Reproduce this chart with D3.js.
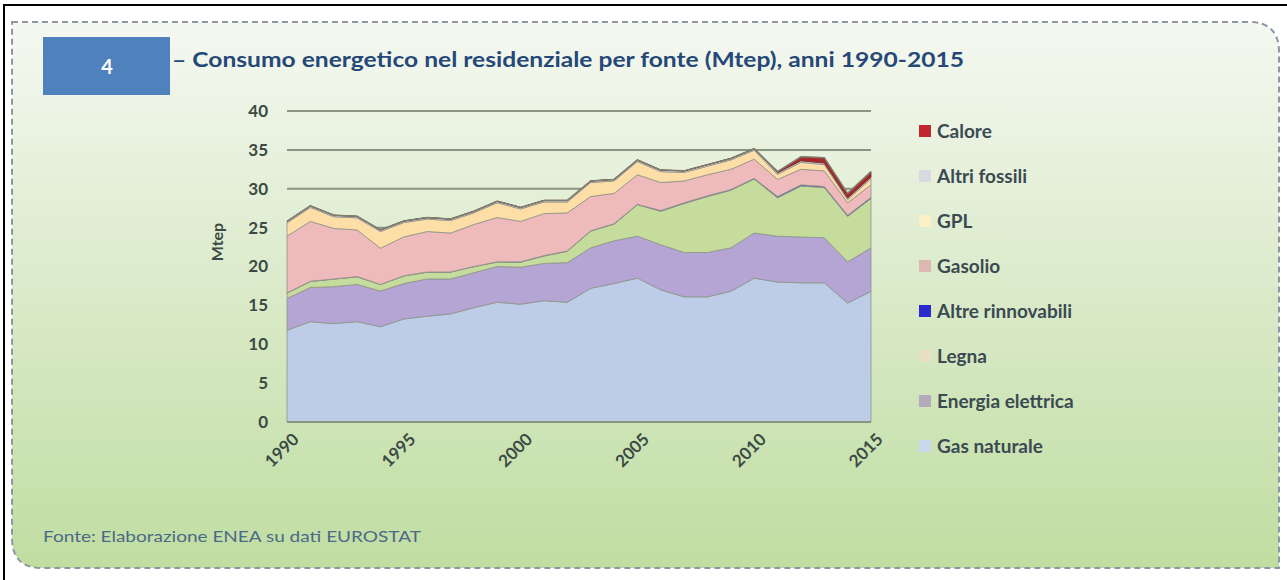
<!DOCTYPE html>
<html><head><meta charset="utf-8">
<script src="https://cdn.jsdelivr.net/npm/d3@7"></script>
<style>html,body{margin:0;padding:0;background:#fff;}svg{display:block;}</style>
</head><body>
<svg id="c" width="1287" height="580"></svg>
<script>
const years = [1990,1991,1992,1993,1994,1995,1996,1997,1998,1999,2000,2001,2002,2003,2004,2005,2006,2007,2008,2009,2010,2011,2012,2013,2014,2015];
const gasNaturale     = [11.8,12.9,12.65,12.9,12.25,13.25,13.6,13.9,14.7,15.4,15.15,15.6,15.4,17.2,17.8,18.5,17.0,16.1,16.1,16.8,18.5,18.0,17.9,17.9,15.3,16.8];
const energiaElettrica= [4.1,4.4,4.75,4.8,4.6,4.55,4.8,4.5,4.5,4.6,4.75,4.8,5.1,5.2,5.5,5.4,5.8,5.7,5.7,5.6,5.8,5.9,5.9,5.8,5.3,5.6];
const legna           = [0.67,0.77,0.97,0.97,0.82,0.97,0.87,0.87,0.77,0.57,0.65,0.95,1.45,2.15,2.15,4.05,4.3,6.3,7.2,7.4,6.95,4.95,6.55,6.45,5.85,6.35];
const altreRinnovabili= [0.03,0.03,0.03,0.03,0.03,0.03,0.03,0.03,0.03,0.03,0.05,0.05,0.05,0.05,0.05,0.05,0.1,0.1,0.1,0.1,0.1,0.15,0.15,0.15,0.15,0.15];
const gasolio         = [7.3,7.7,6.5,6.0,4.65,5.0,5.2,5.0,5.4,5.7,5.2,5.4,4.9,4.4,3.9,3.8,3.6,2.8,2.7,2.6,2.45,2.2,2.0,2.0,1.6,1.6];
const gpl             = [1.7,1.8,1.5,1.55,2.15,1.85,1.6,1.6,1.5,1.9,1.6,1.5,1.4,1.8,1.6,1.7,1.4,1.1,1.1,1.2,1.15,0.65,0.9,0.8,0.4,0.8];
const altriFossili    = [0.2,0.2,0.2,0.2,0.2,0.2,0.2,0.2,0.2,0.2,0.2,0.2,0.2,0.2,0.2,0.2,0.2,0.2,0.2,0.2,0.2,0.2,0.2,0.2,0.2,0.2];
const calore          = [0,0,0,0,0,0,0,0,0,0,0,0,0,0,0,0,0,0,0,0,0,0.15,0.5,0.7,0.6,0.7];
const seriesNames = ["Gas naturale","Energia elettrica","Legna","Altre rinnovabili","Gasolio","GPL","Altri fossili","Calore"];
const yTicks = [0,5,10,15,20,25,30,35,40];
const xTicks = [1990,1995,2000,2005,2010,2015];
const titleText = "– Consumo energetico nel residenziale per fonte (Mtep), anni 1990-2015";
const footText = "Fonte: Elaborazione ENEA su dati EUROSTAT";

const seriesVals = [gasNaturale,energiaElettrica,legna,altreRinnovabili,gasolio,gpl,altriFossili,calore];
const areaColors = ["#bdcde7","#b4a5d4","#c6dc9c","#3030c8","#efbabc","#fddea6","#d8d3e4","#a8282a"];
const legendColors = ["#c9d8ea","#b3aabb","#e8dfc4","#2a2ad0","#dbb9b2","#fbefc4","#d9d9e2","#c0282d"];

const svg = d3.select("#c");
const defs = svg.append("defs");
const grad = defs.append("linearGradient").attr("id","bg").attr("x1",0).attr("y1",0).attr("x2",0).attr("y2",1);
grad.append("stop").attr("offset","0%").attr("stop-color","#f5f8f1");
grad.append("stop").attr("offset","35%").attr("stop-color","#e2eed5");
grad.append("stop").attr("offset","100%").attr("stop-color","#c0dda1");

svg.append("rect").attr("x",0).attr("y",0).attr("width",1287).attr("height",580).attr("fill","#fff");
svg.append("line").attr("x1",3).attr("x2",1287).attr("y1",5).attr("y2",5).attr("stroke","#000").attr("stroke-width",2);
svg.append("line").attr("x1",4).attr("x2",4).attr("y1",5).attr("y2",580).attr("stroke","#000").attr("stroke-width",2);

const L=12,T=22,R=1279,B=568,rad=30;
const panelPath = `M${L},${T} L${R-rad},${T} Q${R},${T} ${R},${T+rad} L${R},${B} L${L+rad},${B} Q${L},${B} ${L},${B-rad} Z`;
svg.append("path").attr("d",panelPath).attr("fill","url(#bg)");
svg.append("path").attr("d",panelPath).attr("fill","none").attr("stroke","#8e96a4").attr("stroke-width",2).attr("stroke-dasharray","6,4");

const font = "Lato, 'Open Sans', sans-serif";
svg.append("rect").attr("x",43).attr("y",37).attr("width",127).attr("height",58).attr("fill","#4f81bd");
svg.append("text").attr("x",107).attr("y",74).attr("text-anchor","middle").attr("fill","#fff")
  .style("font-family",font).style("font-size","20px").style("font-weight","bold").text("4");
svg.append("text").attr("x",172).attr("y",67).attr("fill","#254878")
  .attr("textLength",792).attr("lengthAdjust","spacingAndGlyphs")
  .style("font-family",font).style("font-size","20px").style("font-weight","bold").text(titleText);

const x = d3.scaleLinear().domain([1990,2015]).range([287,871]);
const y = d3.scaleLinear().domain([0,40]).range([422,111]);

const g = svg.append("g");
g.selectAll("line.grid").data(yTicks.filter(d=>d>0)).join("line")
  .attr("x1",x(1990)).attr("x2",x(2015)).attr("y1",d=>y(d)).attr("y2",d=>y(d))
  .attr("stroke","#8a9482").attr("stroke-width",2);

const table = years.map((yr,i)=>{const o={year:yr}; seriesNames.forEach((n,k)=>o[n]=seriesVals[k][i]); return o;});
const stack = d3.stack().keys(seriesNames)(table);
const area = d3.area().x(d=>x(d.data.year)).y0(d=>y(d[0])).y1(d=>y(d[1]));
g.selectAll("path.layer").data(stack).join("path")
  .attr("d",area).attr("fill",(d,i)=>areaColors[i])
  .attr("stroke",(d,i)=> i===7 ? "#7a2020" : "#8f9488").attr("stroke-width",1).attr("stroke-opacity",0.8);
const topLine = d3.line().x(d=>x(d.data.year)).y(d=>y(d[1]));
g.append("path").attr("d",topLine(stack[7])).attr("fill","none").attr("stroke","#7d7f6e").attr("stroke-width",1.5);

g.append("line").attr("x1",x(1990)).attr("x2",x(2015)).attr("y1",y(0)).attr("y2",y(0)).attr("stroke","#8a9482").attr("stroke-width",2);

const yAxis = d3.axisLeft(y).tickValues(yTicks).tickSize(0).tickPadding(0);
const ya = svg.append("g").attr("transform","translate(268,0)").call(yAxis);
ya.select(".domain").remove();
ya.selectAll("text").attr("fill","#3b4a44").style("font-family",font).style("font-size","17px").style("font-weight","bold");

svg.append("text").attr("transform","translate(217,242) rotate(-90)").attr("text-anchor","middle").attr("dy","0.35em")
  .attr("fill","#3b4a44").style("font-family",font).style("font-size","16px").style("font-weight","bold").text("Mtep");

const xAxis = d3.axisBottom(x).tickValues(xTicks).tickFormat(d3.format("d")).tickSize(0).tickPadding(0);
const xa = svg.append("g").attr("transform","translate(0,432)").call(xAxis);
xa.select(".domain").remove();
xa.selectAll("text").attr("fill","#3b4a44").style("font-family",font).style("font-size","17px").style("font-weight","bold")
  .attr("text-anchor","end").attr("dy","0.7em").attr("transform","translate(4,0) rotate(-45)");

const legOrder = d3.range(7,-1,-1);
const leg = svg.append("g");
legOrder.forEach((k,j)=>{
  const yy = 131 + j*45;
  leg.append("rect").attr("x",919).attr("y",yy-6).attr("width",12).attr("height",12).attr("fill",legendColors[k]);
  leg.append("text").attr("x",937).attr("y",yy).attr("dy","0.35em").attr("fill","#3b4a52")
    .style("font-family",font).style("font-size","19px").style("font-weight","bold").text(seriesNames[k]);
});

svg.append("text").attr("x",43).attr("y",542).attr("fill","#4b6a88").attr("textLength",378).attr("lengthAdjust","spacingAndGlyphs")
  .style("font-family",font).style("font-size","16px").text(footText);
</script>
</body></html>
